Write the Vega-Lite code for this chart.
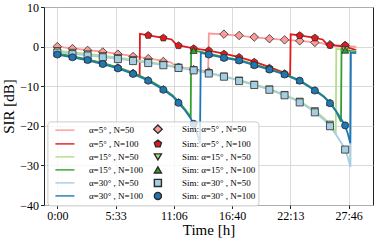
{
  "$schema": "https://vega.github.io/schema/vega-lite/v6.json",
  "width": 329,
  "height": 198,
  "padding": {"left": 1, "top": 1, "right": 5, "bottom": 2},
  "config": {
    "font": "Liberation Serif",
    "view": {"stroke": "#222222", "strokeWidth": 1},
    "axis": {"labelFont": "Liberation Serif", "labelFontSize": 12, "labelColor": "#000000", "titleFont": "Liberation Serif", "titleFontSize": 15, "titleFontWeight": "normal", "titleColor": "#000000", "gridColor": "#d0d0d0", "gridWidth": 0.8, "tickColor": "#222222", "tickSize": 3.5, "domain": false, "labelPadding": 2},
    "legend": {"title": null, "orient": "none", "legendX": 3.4, "legendY": 114.4, "columns": 2, "symbolOffset": 10, "labelOffset": 19.5, "columnPadding": 0, "rowPadding": 0, "padding": 3, "labelFont": "Liberation Serif", "labelFontSize": 9, "labelColor": "#000000", "fillColor": "rgba(255,255,255,0.8)", "strokeColor": "#cccccc", "cornerRadius": 3, "symbolSize": 50, "symbolStrokeWidth": 1.4}
  },
  "datasets": {
    "lines": [
      {"s": "α=5° , N=50", "t": 0, "v": 0.0}, {"s": "α=5° , N=50", "t": 1.444, "v": -0.45}, {"s": "α=5° , N=50", "t": 2.889, "v": -0.9}, {"s": "α=5° , N=50", "t": 4.333, "v": -1.3}, {"s": "α=5° , N=50", "t": 5.778, "v": -1.85}, {"s": "α=5° , N=50", "t": 7.222, "v": -2.4}, {"s": "α=5° , N=50", "t": 8.667, "v": -3.0}, {"s": "α=5° , N=50", "t": 10.111, "v": -3.6}, {"s": "α=5° , N=50", "t": 10.8, "v": -3.95}, {"s": "α=5° , N=50", "t": 11.3, "v": -4.9}, {"s": "α=5° , N=50", "t": 11.556, "v": -5.1}, {"s": "α=5° , N=50", "t": 13.0, "v": -5.7}, {"s": "α=5° , N=50", "t": 14.38, "v": -6.3}, {"s": "α=5° , N=50", "t": 14.45, "v": 3.3}, {"s": "α=5° , N=50", "t": 15.889, "v": 3.1}, {"s": "α=5° , N=50", "t": 17.333, "v": 2.75}, {"s": "α=5° , N=50", "t": 18.778, "v": 2.35}, {"s": "α=5° , N=50", "t": 20.222, "v": 2.0}, {"s": "α=5° , N=50", "t": 21.667, "v": 1.7}, {"s": "α=5° , N=50", "t": 23.111, "v": 1.45}, {"s": "α=5° , N=50", "t": 24.556, "v": 1.05}, {"s": "α=5° , N=50", "t": 25.2, "v": 0.9}, {"s": "α=5° , N=50", "t": 25.65, "v": 0.5}, {"s": "α=5° , N=50", "t": 27.444, "v": 0.25}, {"s": "α=5° , N=50", "t": 28.5, "v": -0.1},
      {"s": "α=5° , N=100", "t": 0, "v": -1.85}, {"s": "α=5° , N=100", "t": 1.444, "v": -2.6}, {"s": "α=5° , N=100", "t": 2.889, "v": -3.3}, {"s": "α=5° , N=100", "t": 4.333, "v": -4.25}, {"s": "α=5° , N=100", "t": 5.778, "v": -5.35}, {"s": "α=5° , N=100", "t": 7.222, "v": -6.75}, {"s": "α=5° , N=100", "t": 7.85, "v": -7.3}, {"s": "α=5° , N=100", "t": 7.88, "v": 3.2}, {"s": "α=5° , N=100", "t": 8.667, "v": 2.85}, {"s": "α=5° , N=100", "t": 10.111, "v": 2.2}, {"s": "α=5° , N=100", "t": 10.9, "v": 1.8}, {"s": "α=5° , N=100", "t": 11.35, "v": 0.5}, {"s": "α=5° , N=100", "t": 11.556, "v": 0.3}, {"s": "α=5° , N=100", "t": 13.0, "v": -0.45}, {"s": "α=5° , N=100", "t": 14.444, "v": -1.0}, {"s": "α=5° , N=100", "t": 15.889, "v": -1.8}, {"s": "α=5° , N=100", "t": 17.333, "v": -2.65}, {"s": "α=5° , N=100", "t": 18.778, "v": -3.8}, {"s": "α=5° , N=100", "t": 20.222, "v": -5.2}, {"s": "α=5° , N=100", "t": 21.667, "v": -6.6}, {"s": "α=5° , N=100", "t": 22.2, "v": -7.2}, {"s": "α=5° , N=100", "t": 22.25, "v": 3.1}, {"s": "α=5° , N=100", "t": 23.111, "v": 2.85}, {"s": "α=5° , N=100", "t": 24.556, "v": 2.2}, {"s": "α=5° , N=100", "t": 25.3, "v": 1.8}, {"s": "α=5° , N=100", "t": 25.75, "v": 0.5}, {"s": "α=5° , N=100", "t": 26.0, "v": 0.35}, {"s": "α=5° , N=100", "t": 27.444, "v": 0.0}, {"s": "α=5° , N=100", "t": 28.5, "v": -0.9},
      {"s": "α=15° , N=50", "t": 0, "v": -1.0}, {"s": "α=15° , N=50", "t": 1.444, "v": -1.45}, {"s": "α=15° , N=50", "t": 2.889, "v": -1.85}, {"s": "α=15° , N=50", "t": 4.333, "v": -2.3}, {"s": "α=15° , N=50", "t": 5.778, "v": -2.8}, {"s": "α=15° , N=50", "t": 7.222, "v": -3.3}, {"s": "α=15° , N=50", "t": 8.667, "v": -3.85}, {"s": "α=15° , N=50", "t": 10.111, "v": -4.5}, {"s": "α=15° , N=50", "t": 11.556, "v": -5.2}, {"s": "α=15° , N=50", "t": 13.0, "v": -5.85}, {"s": "α=15° , N=50", "t": 14.444, "v": -6.6}, {"s": "α=15° , N=50", "t": 15.889, "v": -7.45}, {"s": "α=15° , N=50", "t": 17.333, "v": -8.45}, {"s": "α=15° , N=50", "t": 18.778, "v": -9.5}, {"s": "α=15° , N=50", "t": 20.222, "v": -10.7}, {"s": "α=15° , N=50", "t": 21.667, "v": -12.1}, {"s": "α=15° , N=50", "t": 23.111, "v": -13.8}, {"s": "α=15° , N=50", "t": 24.556, "v": -16.2}, {"s": "α=15° , N=50", "t": 25.4, "v": -18.0}, {"s": "α=15° , N=50", "t": 26.0, "v": -19.6}, {"s": "α=15° , N=50", "t": 26.55, "v": -21.7}, {"s": "α=15° , N=50", "t": 26.6, "v": -0.6}, {"s": "α=15° , N=50", "t": 27.444, "v": -0.8}, {"s": "α=15° , N=50", "t": 28.5, "v": -1.2},
      {"s": "α=15° , N=100", "t": 0, "v": -1.7}, {"s": "α=15° , N=100", "t": 1.444, "v": -2.45}, {"s": "α=15° , N=100", "t": 2.889, "v": -3.2}, {"s": "α=15° , N=100", "t": 4.333, "v": -4.15}, {"s": "α=15° , N=100", "t": 5.778, "v": -5.25}, {"s": "α=15° , N=100", "t": 7.222, "v": -6.6}, {"s": "α=15° , N=100", "t": 8.667, "v": -8.3}, {"s": "α=15° , N=100", "t": 10.111, "v": -10.6}, {"s": "α=15° , N=100", "t": 11.0, "v": -12.3}, {"s": "α=15° , N=100", "t": 11.556, "v": -13.9}, {"s": "α=15° , N=100", "t": 12.2, "v": -15.9}, {"s": "α=15° , N=100", "t": 12.72, "v": -17.8}, {"s": "α=15° , N=100", "t": 12.76, "v": -0.5}, {"s": "α=15° , N=100", "t": 13.0, "v": -0.95}, {"s": "α=15° , N=100", "t": 14.444, "v": -1.8}, {"s": "α=15° , N=100", "t": 15.889, "v": -2.65}, {"s": "α=15° , N=100", "t": 17.333, "v": -3.35}, {"s": "α=15° , N=100", "t": 18.778, "v": -4.5}, {"s": "α=15° , N=100", "t": 20.222, "v": -5.6}, {"s": "α=15° , N=100", "t": 21.667, "v": -6.85}, {"s": "α=15° , N=100", "t": 23.111, "v": -8.5}, {"s": "α=15° , N=100", "t": 24.556, "v": -10.9}, {"s": "α=15° , N=100", "t": 25.4, "v": -12.5}, {"s": "α=15° , N=100", "t": 26.0, "v": -14.1}, {"s": "α=15° , N=100", "t": 26.6, "v": -16.4}, {"s": "α=15° , N=100", "t": 27.05, "v": -19.0}, {"s": "α=15° , N=100", "t": 27.1, "v": -0.6}, {"s": "α=15° , N=100", "t": 27.444, "v": -0.9}, {"s": "α=15° , N=100", "t": 28.5, "v": -1.35},
      {"s": "α=30° , N=50", "t": 0, "v": -1.4}, {"s": "α=30° , N=50", "t": 1.444, "v": -1.85}, {"s": "α=30° , N=50", "t": 2.889, "v": -2.2}, {"s": "α=30° , N=50", "t": 4.333, "v": -2.65}, {"s": "α=30° , N=50", "t": 5.778, "v": -3.1}, {"s": "α=30° , N=50", "t": 7.222, "v": -3.6}, {"s": "α=30° , N=50", "t": 8.667, "v": -4.1}, {"s": "α=30° , N=50", "t": 10.111, "v": -4.7}, {"s": "α=30° , N=50", "t": 11.556, "v": -5.35}, {"s": "α=30° , N=50", "t": 13.0, "v": -6.0}, {"s": "α=30° , N=50", "t": 14.444, "v": -6.75}, {"s": "α=30° , N=50", "t": 15.889, "v": -7.6}, {"s": "α=30° , N=50", "t": 17.333, "v": -8.6}, {"s": "α=30° , N=50", "t": 18.778, "v": -9.7}, {"s": "α=30° , N=50", "t": 20.222, "v": -10.9}, {"s": "α=30° , N=50", "t": 21.667, "v": -12.3}, {"s": "α=30° , N=50", "t": 23.111, "v": -14.0}, {"s": "α=30° , N=50", "t": 24.556, "v": -16.5}, {"s": "α=30° , N=50", "t": 25.4, "v": -18.4}, {"s": "α=30° , N=50", "t": 26.0, "v": -20.1}, {"s": "α=30° , N=50", "t": 26.6, "v": -22.3}, {"s": "α=30° , N=50", "t": 27.1, "v": -24.4}, {"s": "α=30° , N=50", "t": 27.444, "v": -26.0}, {"s": "α=30° , N=50", "t": 27.7, "v": -28.0}, {"s": "α=30° , N=50", "t": 27.95, "v": -30.4}, {"s": "α=30° , N=50", "t": 28.02, "v": -1.4}, {"s": "α=30° , N=50", "t": 28.5, "v": -1.6},
      {"s": "α=30° , N=100", "t": 0, "v": -2.0}, {"s": "α=30° , N=100", "t": 1.444, "v": -2.75}, {"s": "α=30° , N=100", "t": 2.889, "v": -3.45}, {"s": "α=30° , N=100", "t": 4.333, "v": -4.4}, {"s": "α=30° , N=100", "t": 5.778, "v": -5.5}, {"s": "α=30° , N=100", "t": 7.222, "v": -6.9}, {"s": "α=30° , N=100", "t": 8.667, "v": -8.6}, {"s": "α=30° , N=100", "t": 10.111, "v": -10.9}, {"s": "α=30° , N=100", "t": 11.0, "v": -12.6}, {"s": "α=30° , N=100", "t": 11.556, "v": -14.2}, {"s": "α=30° , N=100", "t": 12.2, "v": -16.2}, {"s": "α=30° , N=100", "t": 12.75, "v": -18.3}, {"s": "α=30° , N=100", "t": 13.1, "v": -20.3}, {"s": "α=30° , N=100", "t": 13.35, "v": -22.2}, {"s": "α=30° , N=100", "t": 13.6, "v": -24.4}, {"s": "α=30° , N=100", "t": 13.68, "v": -1.6}, {"s": "α=30° , N=100", "t": 14.444, "v": -2.05}, {"s": "α=30° , N=100", "t": 15.889, "v": -2.85}, {"s": "α=30° , N=100", "t": 17.333, "v": -3.55}, {"s": "α=30° , N=100", "t": 18.778, "v": -4.7}, {"s": "α=30° , N=100", "t": 20.222, "v": -5.8}, {"s": "α=30° , N=100", "t": 21.667, "v": -7.05}, {"s": "α=30° , N=100", "t": 23.111, "v": -8.7}, {"s": "α=30° , N=100", "t": 24.556, "v": -11.1}, {"s": "α=30° , N=100", "t": 25.4, "v": -12.7}, {"s": "α=30° , N=100", "t": 26.0, "v": -14.3}, {"s": "α=30° , N=100", "t": 26.6, "v": -16.4}, {"s": "α=30° , N=100", "t": 27.1, "v": -18.4}, {"s": "α=30° , N=100", "t": 27.444, "v": -19.95}, {"s": "α=30° , N=100", "t": 27.7, "v": -22.0}, {"s": "α=30° , N=100", "t": 27.93, "v": -24.4}, {"s": "α=30° , N=100", "t": 27.98, "v": -1.5}, {"s": "α=30° , N=100", "t": 28.5, "v": -1.65}
    ],
    "sims": [
      {"s": "Sim: α=5° , N=50", "t": 0, "v": 0.0}, {"s": "Sim: α=5° , N=50", "t": 1.444, "v": -0.5}, {"s": "Sim: α=5° , N=50", "t": 2.889, "v": -0.95}, {"s": "Sim: α=5° , N=50", "t": 4.333, "v": -1.35}, {"s": "Sim: α=5° , N=50", "t": 5.778, "v": -1.9}, {"s": "Sim: α=5° , N=50", "t": 7.222, "v": -2.5}, {"s": "Sim: α=5° , N=50", "t": 8.667, "v": -3.05}, {"s": "Sim: α=5° , N=50", "t": 10.111, "v": -3.75}, {"s": "Sim: α=5° , N=50", "t": 11.556, "v": -5.2}, {"s": "Sim: α=5° , N=50", "t": 13.0, "v": -5.8}, {"s": "Sim: α=5° , N=50", "t": 14.444, "v": -6.4}, {"s": "Sim: α=5° , N=50", "t": 15.889, "v": 3.15}, {"s": "Sim: α=5° , N=50", "t": 17.333, "v": 2.8}, {"s": "Sim: α=5° , N=50", "t": 18.778, "v": 2.4}, {"s": "Sim: α=5° , N=50", "t": 20.222, "v": 2.0}, {"s": "Sim: α=5° , N=50", "t": 21.667, "v": 1.7}, {"s": "Sim: α=5° , N=50", "t": 23.111, "v": 1.45}, {"s": "Sim: α=5° , N=50", "t": 24.556, "v": 1.05}, {"s": "Sim: α=5° , N=50", "t": 26.0, "v": 0.5}, {"s": "Sim: α=5° , N=50", "t": 27.444, "v": 0.25},
      {"s": "Sim: α=5° , N=100", "t": 0, "v": -1.8}, {"s": "Sim: α=5° , N=100", "t": 1.444, "v": -2.5}, {"s": "Sim: α=5° , N=100", "t": 2.889, "v": -3.2}, {"s": "Sim: α=5° , N=100", "t": 4.333, "v": -4.2}, {"s": "Sim: α=5° , N=100", "t": 5.778, "v": -5.3}, {"s": "Sim: α=5° , N=100", "t": 7.222, "v": -6.7}, {"s": "Sim: α=5° , N=100", "t": 8.667, "v": 2.85}, {"s": "Sim: α=5° , N=100", "t": 10.111, "v": 2.2}, {"s": "Sim: α=5° , N=100", "t": 11.556, "v": 0.25}, {"s": "Sim: α=5° , N=100", "t": 13.0, "v": -0.5}, {"s": "Sim: α=5° , N=100", "t": 14.444, "v": -1.0}, {"s": "Sim: α=5° , N=100", "t": 15.889, "v": -1.85}, {"s": "Sim: α=5° , N=100", "t": 17.333, "v": -2.7}, {"s": "Sim: α=5° , N=100", "t": 18.778, "v": -3.9}, {"s": "Sim: α=5° , N=100", "t": 20.222, "v": -5.4}, {"s": "Sim: α=5° , N=100", "t": 21.667, "v": -6.8}, {"s": "Sim: α=5° , N=100", "t": 23.111, "v": 2.8}, {"s": "Sim: α=5° , N=100", "t": 24.556, "v": 2.2}, {"s": "Sim: α=5° , N=100", "t": 26.0, "v": 0.35}, {"s": "Sim: α=5° , N=100", "t": 27.444, "v": 0.35},
      {"s": "Sim: α=15° , N=50", "t": 0, "v": -1.0}, {"s": "Sim: α=15° , N=50", "t": 1.444, "v": -1.45}, {"s": "Sim: α=15° , N=50", "t": 2.889, "v": -1.85}, {"s": "Sim: α=15° , N=50", "t": 4.333, "v": -2.3}, {"s": "Sim: α=15° , N=50", "t": 5.778, "v": -2.8}, {"s": "Sim: α=15° , N=50", "t": 7.222, "v": -3.3}, {"s": "Sim: α=15° , N=50", "t": 8.667, "v": -3.85}, {"s": "Sim: α=15° , N=50", "t": 10.111, "v": -4.5}, {"s": "Sim: α=15° , N=50", "t": 11.556, "v": -5.2}, {"s": "Sim: α=15° , N=50", "t": 13.0, "v": -5.85}, {"s": "Sim: α=15° , N=50", "t": 14.444, "v": -6.6}, {"s": "Sim: α=15° , N=50", "t": 15.889, "v": -7.45}, {"s": "Sim: α=15° , N=50", "t": 17.333, "v": -8.45}, {"s": "Sim: α=15° , N=50", "t": 18.778, "v": -9.5}, {"s": "Sim: α=15° , N=50", "t": 20.222, "v": -10.7}, {"s": "Sim: α=15° , N=50", "t": 21.667, "v": -12.1}, {"s": "Sim: α=15° , N=50", "t": 23.111, "v": -13.8}, {"s": "Sim: α=15° , N=50", "t": 24.556, "v": -16.2}, {"s": "Sim: α=15° , N=50", "t": 26.0, "v": -19.6}, {"s": "Sim: α=15° , N=50", "t": 27.444, "v": -0.85},
      {"s": "Sim: α=15° , N=100", "t": 0, "v": -1.75}, {"s": "Sim: α=15° , N=100", "t": 1.444, "v": -2.45}, {"s": "Sim: α=15° , N=100", "t": 2.889, "v": -3.2}, {"s": "Sim: α=15° , N=100", "t": 4.333, "v": -4.15}, {"s": "Sim: α=15° , N=100", "t": 5.778, "v": -5.25}, {"s": "Sim: α=15° , N=100", "t": 7.222, "v": -6.6}, {"s": "Sim: α=15° , N=100", "t": 8.667, "v": -8.3}, {"s": "Sim: α=15° , N=100", "t": 10.111, "v": -10.6}, {"s": "Sim: α=15° , N=100", "t": 11.556, "v": -13.9}, {"s": "Sim: α=15° , N=100", "t": 13.0, "v": -0.95}, {"s": "Sim: α=15° , N=100", "t": 14.444, "v": -1.8}, {"s": "Sim: α=15° , N=100", "t": 15.889, "v": -2.65}, {"s": "Sim: α=15° , N=100", "t": 17.333, "v": -3.35}, {"s": "Sim: α=15° , N=100", "t": 18.778, "v": -4.5}, {"s": "Sim: α=15° , N=100", "t": 20.222, "v": -5.6}, {"s": "Sim: α=15° , N=100", "t": 21.667, "v": -6.85}, {"s": "Sim: α=15° , N=100", "t": 23.111, "v": -8.5}, {"s": "Sim: α=15° , N=100", "t": 24.556, "v": -10.9}, {"s": "Sim: α=15° , N=100", "t": 26.0, "v": -14.1}, {"s": "Sim: α=15° , N=100", "t": 27.444, "v": -0.9},
      {"s": "Sim: α=30° , N=50", "t": 0, "v": -1.5}, {"s": "Sim: α=30° , N=50", "t": 1.444, "v": -1.9}, {"s": "Sim: α=30° , N=50", "t": 2.889, "v": -2.25}, {"s": "Sim: α=30° , N=50", "t": 4.333, "v": -2.7}, {"s": "Sim: α=30° , N=50", "t": 5.778, "v": -3.15}, {"s": "Sim: α=30° , N=50", "t": 7.222, "v": -3.65}, {"s": "Sim: α=30° , N=50", "t": 8.667, "v": -4.15}, {"s": "Sim: α=30° , N=50", "t": 10.111, "v": -4.7}, {"s": "Sim: α=30° , N=50", "t": 11.556, "v": -5.4}, {"s": "Sim: α=30° , N=50", "t": 13.0, "v": -6.0}, {"s": "Sim: α=30° , N=50", "t": 14.444, "v": -6.8}, {"s": "Sim: α=30° , N=50", "t": 15.889, "v": -7.6}, {"s": "Sim: α=30° , N=50", "t": 17.333, "v": -8.7}, {"s": "Sim: α=30° , N=50", "t": 18.778, "v": -9.7}, {"s": "Sim: α=30° , N=50", "t": 20.222, "v": -10.9}, {"s": "Sim: α=30° , N=50", "t": 21.667, "v": -12.3}, {"s": "Sim: α=30° , N=50", "t": 23.111, "v": -14.1}, {"s": "Sim: α=30° , N=50", "t": 24.556, "v": -16.6}, {"s": "Sim: α=30° , N=50", "t": 26.0, "v": -20.1}, {"s": "Sim: α=30° , N=50", "t": 27.444, "v": -26.0},
      {"s": "Sim: α=30° , N=100", "t": 0, "v": -2.0}, {"s": "Sim: α=30° , N=100", "t": 1.444, "v": -2.7}, {"s": "Sim: α=30° , N=100", "t": 2.889, "v": -3.4}, {"s": "Sim: α=30° , N=100", "t": 4.333, "v": -4.4}, {"s": "Sim: α=30° , N=100", "t": 5.778, "v": -5.5}, {"s": "Sim: α=30° , N=100", "t": 7.222, "v": -6.9}, {"s": "Sim: α=30° , N=100", "t": 8.667, "v": -8.6}, {"s": "Sim: α=30° , N=100", "t": 10.111, "v": -10.9}, {"s": "Sim: α=30° , N=100", "t": 11.556, "v": -14.2}, {"s": "Sim: α=30° , N=100", "t": 13.0, "v": -19.5}, {"s": "Sim: α=30° , N=100", "t": 14.444, "v": -2.0}, {"s": "Sim: α=30° , N=100", "t": 15.889, "v": -2.85}, {"s": "Sim: α=30° , N=100", "t": 17.333, "v": -3.5}, {"s": "Sim: α=30° , N=100", "t": 18.778, "v": -4.7}, {"s": "Sim: α=30° , N=100", "t": 20.222, "v": -5.8}, {"s": "Sim: α=30° , N=100", "t": 21.667, "v": -7.05}, {"s": "Sim: α=30° , N=100", "t": 23.111, "v": -8.6}, {"s": "Sim: α=30° , N=100", "t": 24.556, "v": -11.1}, {"s": "Sim: α=30° , N=100", "t": 26.0, "v": -14.3}, {"s": "Sim: α=30° , N=100", "t": 27.444, "v": -19.9}
    ]
  },
  "encoding": {
    "x": {"field": "t", "type": "quantitative", "title": "Time [h]", "scale": {"domain": [-1.27, 30.1], "nice": false, "zero": false}, "axis": {"values": [0, 5.555556, 11.111111, 16.666667, 22.222222, 27.777778], "labelExpr": "floor(datum.value + 0.000001) + ':' + (floor((datum.value - floor(datum.value + 0.000001)) * 60 + 0.01) < 10 ? '0' : '') + floor((datum.value - floor(datum.value + 0.000001)) * 60 + 0.01)", "titlePadding": 1}},
    "y": {"field": "v", "type": "quantitative", "title": "SIR [dB]", "scale": {"domain": [-40, 10], "nice": false, "zero": false}, "axis": {"values": [-40, -30, -20, -10, 0, 10], "titlePadding": 3}}
  },
  "layer": [
    {
      "data": {"name": "lines"},
      "mark": {"type": "line", "strokeWidth": 1.8},
      "encoding": {
        "stroke": {"field": "s", "type": "nominal",
          "scale": {"domain": ["α=5° , N=50", "α=5° , N=100", "α=15° , N=50", "α=15° , N=100", "α=30° , N=50", "α=30° , N=100", "Sim: α=5° , N=50", "Sim: α=5° , N=100", "Sim: α=15° , N=50", "Sim: α=15° , N=100", "Sim: α=30° , N=50", "Sim: α=30° , N=100"],
                    "range": ["#fb9a99", "#e31a1c", "#b2df8a", "#33a02c", "#a6cee3", "#1f78b4", "#2b2b2b", "#2b2b2b", "#2b2b2b", "#2b2b2b", "#2b2b2b", "#2b2b2b"]}
        }
      }
    },
    {
      "data": {"name": "sims"},
      "mark": {"type": "point", "filled": true, "size": 50, "stroke": "#2b2b2b", "strokeWidth": 0.8, "opacity": 1},
      "encoding": {
        "fill": {"field": "s", "type": "nominal",
          "scale": {"domain": ["α=5° , N=50", "α=5° , N=100", "α=15° , N=50", "α=15° , N=100", "α=30° , N=50", "α=30° , N=100", "Sim: α=5° , N=50", "Sim: α=5° , N=100", "Sim: α=15° , N=50", "Sim: α=15° , N=100", "Sim: α=30° , N=50", "Sim: α=30° , N=100"],
                    "range": ["transparent", "transparent", "transparent", "transparent", "transparent", "transparent", "#fb9a99", "#e31a1c", "#b2df8a", "#33a02c", "#a6cee3", "#1f78b4"]}
        },
        "shape": {"field": "s", "type": "nominal",
          "scale": {"domain": ["α=5° , N=50", "α=5° , N=100", "α=15° , N=50", "α=15° , N=100", "α=30° , N=50", "α=30° , N=100", "Sim: α=5° , N=50", "Sim: α=5° , N=100", "Sim: α=15° , N=50", "Sim: α=15° , N=100", "Sim: α=30° , N=50", "Sim: α=30° , N=100"],
                    "range": ["M-2.7,0L2.7,0", "M-2.7,0L2.7,0", "M-2.7,0L2.7,0", "M-2.7,0L2.7,0", "M-2.7,0L2.7,0", "M-2.7,0L2.7,0", "M0,-1.2L1.2,0L0,1.2L-1.2,0Z", "M0,-1.05L1,-0.32L0.62,0.85L-0.62,0.85L-1,-0.32Z", "triangle-down", "triangle-up", "square", "circle"]}
        }
      }
    }
  ]
}
